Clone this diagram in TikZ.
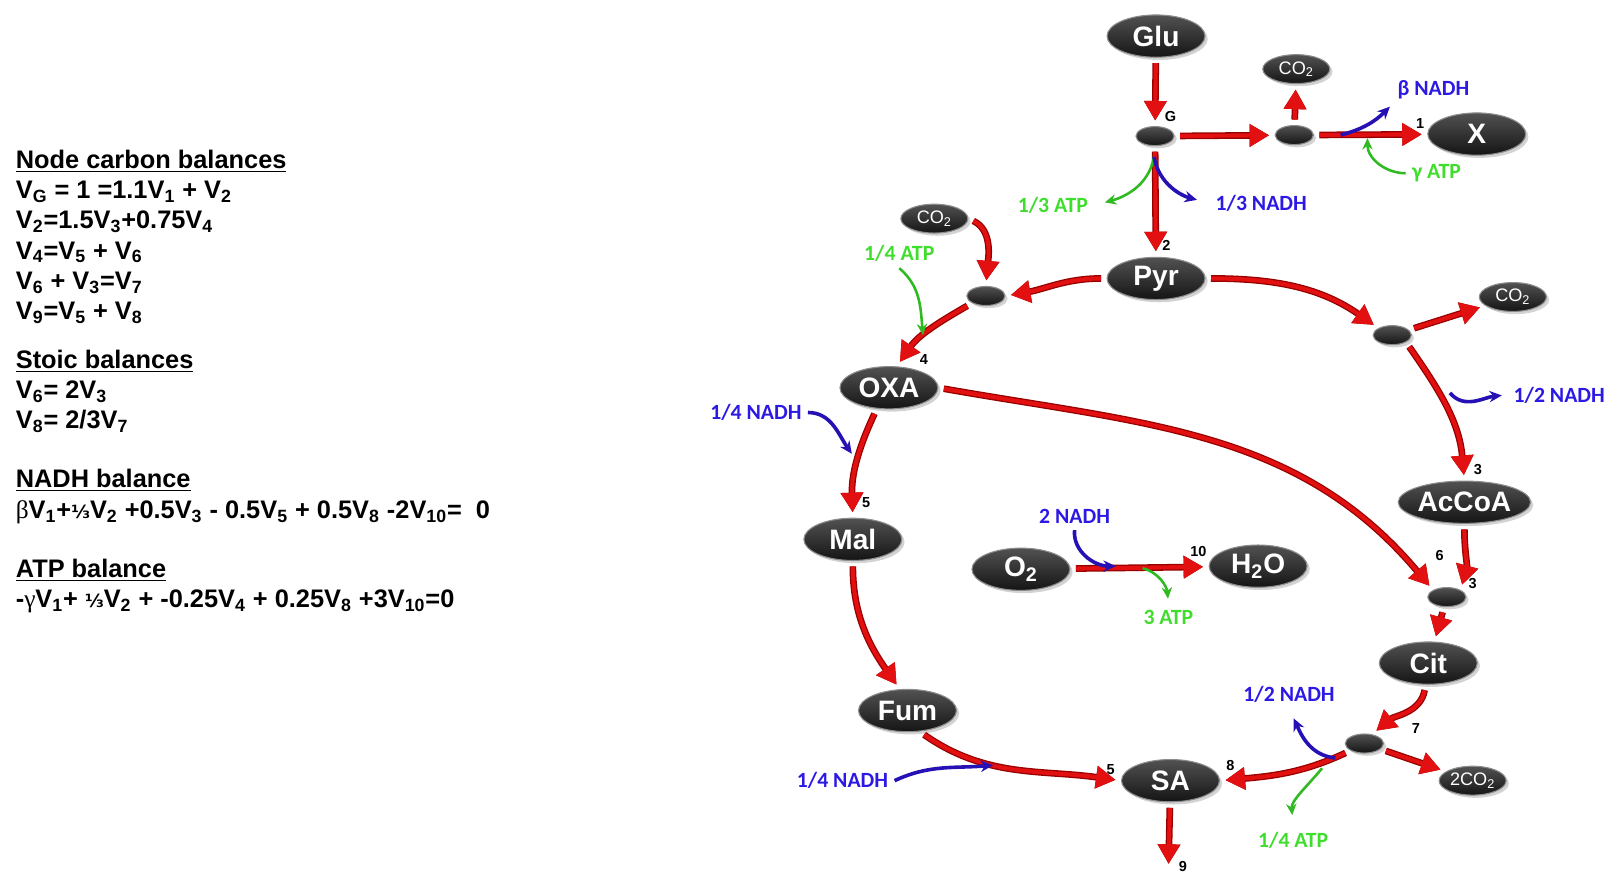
\documentclass[tikz,border=0pt]{standalone}
\usepackage{fontspec}
\setmainfont{Liberation Sans}
\newfontfamily\labelfont{Carlito}
\newfontfamily\greekfont{Liberation Serif}
\newfontfamily\fracfont{DejaVu Sans}
\usetikzlibrary{arrows.meta,shapes.geometric,shadows}
\definecolor{fluxred}{RGB}{226,16,16}
\definecolor{fluxdark}{RGB}{150,0,0}
\definecolor{nadhblue}{RGB}{44,26,228}
\definecolor{nadharrow}{RGB}{38,18,180}
\definecolor{atpgreen}{RGB}{64,222,44}
\definecolor{atparrow}{RGB}{48,186,34}
\newcommand{\flx}[1]{V\textsubscript{#1}}
\newcommand{\third}{{\fracfont\fontsize{10}{12}\selectfont ⅓}}
\tikzset{
  metab/.style={ellipse,minimum width=1.9cm,minimum height=0.82cm,inner sep=0pt,
    draw=black!45,line width=0.6pt,top color=black!68,bottom color=black!92,
    drop shadow={shadow xshift=1.5pt,shadow yshift=-1.5pt,opacity=0.35},
    text=white,font=\fontsize{15.5}{16}\selectfont\bfseries},
  gas/.style={metab,minimum width=1.3cm,minimum height=0.56cm,
    font=\fontsize{10}{11}\selectfont},
  junction/.style={metab,minimum width=0.74cm,minimum height=0.37cm},
  flux/.style={draw=fluxred,line width=0.08cm,preaction={draw=fluxdark,line width=0.13cm},
    shorten <=3pt,shorten >=3pt,-{Triangle[length=0.38cm,width=0.42cm]}},
  nadh/.style={draw=nadharrow,line width=0.07cm,-{Stealth[length=0.24cm,width=0.22cm]}},
  atp/.style={draw=atparrow,line width=0.05cm,-{Stealth[length=0.22cm,width=0.2cm]}},
  nadhlabel/.style={text=nadhblue,font=\labelfont\fontsize{12}{14}\selectfont\bfseries},
  atplabel/.style={text=atpgreen,font=\labelfont\fontsize{12}{14}\selectfont\bfseries},
  num/.style={font=\fontsize{8}{9}\selectfont\bfseries,inner sep=1pt},
  balance/.style={anchor=north west,align=left,inner sep=0pt,
    font=\fontsize{14}{16.7}\selectfont\bfseries}
}
\begin{document}
\begin{tikzpicture}[x=0.02cm,y=0.02cm]
  \useasboundingbox (0,0) rectangle (1568,-868);
  %% balances
  \node[balance] (carbon) at (15,-145) {\underline{Node carbon balances}\\
    \flx{G} = 1 =1.1\flx{1} + \flx{2}\\
    \flx{2}=1.5\flx{3}+0.75\flx{4}\\
    \flx{4}=\flx{5} + \flx{6}\\
    \flx{6} + \flx{3}=\flx{7}\\
    \flx{9}=\flx{5} + \flx{8}};
  \node[balance] (stoic) at (15,-339) {\underline{Stoic balances}\\
    \flx{6}= 2\flx{3}\\
    \flx{8}= 2/3\flx{7}};
  \node[balance] (nadhbal) at (15,-455) {\underline{NADH balance}\\
    {\greekfont\mdseries β}\flx{1}+\third\flx{2} +0.5\flx{3} - 0.5\flx{5} + 0.5\flx{8} -2\flx{10}=\ \ 0};
  \node[balance] (atpbal) at (15,-542) {\underline{ATP balance}\\
    -{\greekfont\mdseries γ}\flx{1}+ \third\flx{2} + -0.25\flx{4} + 0.25\flx{8} +3\flx{10}=0};

  %% metabolites
  \node[metab] (glu) at (1121,-35) {Glu};
  \node[junction] (jg) at (1120,-132) {};
  \node[junction] (j1) at (1255,-131) {};
  \node[gas] (co2a) at (1257,-67) {CO\textsubscript{2}};
  \node[metab] (x) at (1432,-130) {X};
  \node[metab] (pyr) at (1121,-270) {Pyr};
  \node[gas] (co2b) at (906,-212) {CO\textsubscript{2}};
  \node[junction] (j4) at (956,-287) {};
  \node[metab] (oxa) at (862,-376) {OXA};
  \node[metab] (mal) at (827,-523) {Mal};
  \node[metab] (fum) at (880,-689) {Fum};
  \node[metab] (sa) at (1135,-757) {SA};
  \node[metab] (o2) at (990,-552) {O\textsubscript{2}};
  \node[metab] (h2o) at (1220,-549) {H\textsubscript{2}O};
  \node[junction] (j3) at (1350,-325) {};
  \node[gas] (co2c) at (1467,-288) {CO\textsubscript{2}};
  \node[metab] (accoa) at (1420,-487) {AcCoA};
  \node[junction] (j6) at (1403,-579) {};
  \node[metab] (cit) at (1385,-643) {Cit};
  \node[junction] (j7) at (1323,-721) {};
  \node[gas] (co2d) at (1428,-757) {2CO\textsubscript{2}};
  \coordinate (out9) at (1133,-843);

  %% flux numbers
  \node[num] (lg) at (1135,-113) {G};
  \node[num] (l1) at (1377,-120) {1};
  \node[num] (l2) at (1131,-238) {2};
  \node[num] (l4) at (896,-349) {4};
  \node[num] (l5a) at (840,-487) {5};
  \node[num] (l3a) at (1433,-455) {3};
  \node[num] (l6) at (1396,-539) {6};
  \node[num] (l3b) at (1428,-566) {3};
  \node[num] (l7) at (1373,-706) {7};
  \node[num] (l8) at (1193,-742) {8};
  \node[num] (l5b) at (1077,-746) {5};
  \node[num] (l9) at (1147,-840) {9};
  \node[num] (l10) at (1162,-535) {10};

  %% cofactor labels
  \node[nadhlabel] (bn) at (1390,-87) {β NADH};
  \node[atplabel] (gt) at (1393,-168) {γ ATP};
  \node[atplabel] (ta) at (1021,-199) {1/3 ATP};
  \node[nadhlabel] (tn) at (1223,-197) {1/3 NADH};
  \node[atplabel] (qa) at (872,-246) {1/4 ATP};
  \node[nadhlabel] (qn) at (733,-400) {1/4 NADH};
  \node[nadhlabel] (hn) at (1512,-383) {1/2 NADH};
  \node[nadhlabel] (dn) at (1042,-501) {2 NADH};
  \node[atplabel] (da) at (1133,-599) {3 ATP};
  \node[nadhlabel] (cn) at (1250,-673) {1/2 NADH};
  \node[atplabel] (ca) at (1254,-815) {1/4 ATP};
  \node[nadhlabel] (fn) at (817,-757) {1/4 NADH};

  %% points on the carbon fluxes
  \coordinate (b1) at (1300,-131);
  \coordinate (g1) at (1326,-134);
  \coordinate (t1) at (1119,-152);
  \coordinate (a4) at (895,-325);
  \coordinate (n5) at (826,-440);
  \coordinate (n3) at (1406,-381);
  \coordinate (a10) at (1108,-551);
  \coordinate (n10) at (1082,-549);
  \coordinate (n5b) at (963,-742);
  \coordinate (n8) at (1295,-735);
  \coordinate (a8) at (1282,-745);

  %% carbon fluxes
  \draw[flux] (glu) -- (jg);
  \draw[flux] (jg) -- (j1);
  \draw[flux] (j1) -- (co2a);
  \draw[flux] (j1) -- (x);
  \draw[flux] (jg) -- (pyr);
  \draw[flux] (pyr.west) to[out=180,in=10] (j4.east);
  \draw[flux] (co2b.east) to[out=-25,in=85] (j4.north);
  \draw[flux] (j4.south west) to[out=-150,in=55] (oxa.70);
  \draw[flux] (pyr.east) to[out=0,in=145] (j3.north west);
  \draw[flux] (j3) -- (co2c);
  \draw[flux] (j3.south east) to[out=-55,in=95] (accoa.north);
  \draw[flux] (oxa.east) to[out=-10,in=130] (j6.north west);
  \draw[flux] (accoa.south) to[out=-90,in=75] (j6.north east);
  \draw[flux] (j6) -- (cit);
  \draw[flux] (cit.263) to[out=-100,in=40] (j7.50);
  \draw[flux] (j7) -- (co2d);
  \draw[flux] (j7.south west) to[out=-155,in=5] (sa.east);
  \draw[flux] (oxa.240) to[out=-115,in=92] (mal.north);
  \draw[flux] (mal.south) to[out=-90,in=125] (fum.110);
  \draw[flux] (fum.-60) to[out=-35,in=172] (sa.west);
  \draw[flux] (sa) -- (out9);
  \draw[flux] (o2) -- (h2o);

  %% NADH and ATP
  \draw[nadh,shorten >=1pt] (b1) to[out=15,in=-135] (bn.south west);
  \draw[atp] (gt.west) to[out=180,in=-90] (g1);
  \draw[atp,shorten >=6pt] (t1) to[out=-100,in=15] (ta.east);
  \draw[nadh,shorten >=7pt] (t1) to[out=-80,in=165] (tn.west);
  \draw[atp] (qa.south) to[out=-40,in=95] (a4);
  \draw[nadh] (qn.east) to[out=0,in=125] (n5);
  \draw[nadh,shorten >=3pt] (n3) to[out=-50,in=185] (hn.west);
  \draw[nadh] (dn.south) to[out=-95,in=180] (n10);
  \draw[atp,shorten >=3pt] (a10) to[out=-15,in=95] (da.north);
  \draw[nadh] (fn.east) to[out=25,in=185] (n5b);
  \draw[nadh,shorten >=6pt] (n8) to[out=175,in=-65] (cn.south);
  \draw[atp,shorten >=6pt] (a8) to[out=-130,in=95] (ca.north);
\end{tikzpicture}
\end{document}
